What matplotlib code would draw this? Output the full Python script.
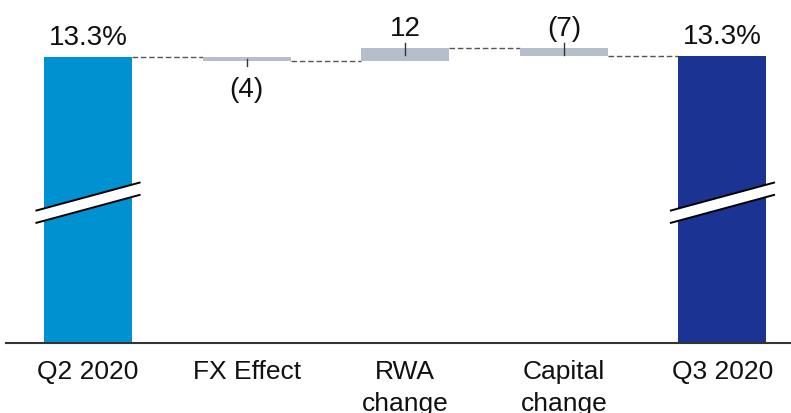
import matplotlib
matplotlib.use('Agg')
import matplotlib.pyplot as plt
from matplotlib.patches import Polygon

plt.rcParams['font.family'] = ['Liberation Sans', 'DejaVu Sans']

# CET1 ratio bridge, Q2 -> Q3 2020 (movements in basis points)
categories = ['Q2 2020', 'FX Effect', 'RWA\nchange', 'Capital\nchange', 'Q3 2020']
start_ratio = 13.30          # %
deltas_bps = [-4, 12, -7]
end_ratio = start_ratio + sum(deltas_bps) / 100.0

TOTAL_COLORS = ['#0091D0', '#1B3393']
STEP_COLOR = '#B4BFCB'
LINE_COLOR = '#555555'

BAR_W = 0.555
Y_LOW, Y_HIGH = 10.58, 13.85

fig = plt.figure(figsize=(7.91, 4.14), dpi=100)
ax = fig.add_axes([6 / 791, 70 / 414, 785 / 791, 344 / 414])
ax.set_xlim(-0.517, 4.432)
ax.set_ylim(Y_LOW, Y_HIGH)

n = len(categories)
xs = list(range(n))

# running level after each step
levels = [start_ratio]
for d in deltas_bps:
    levels.append(levels[-1] + d / 100.0)

spans = [(Y_LOW, start_ratio)]
for i, d in enumerate(deltas_bps):
    a, b = levels[i], levels[i + 1]
    spans.append((min(a, b), max(a, b)))
spans.append((Y_LOW, end_ratio))

colors = [TOTAL_COLORS[0]] + [STEP_COLOR] * len(deltas_bps) + [TOTAL_COLORS[1]]
for x, (lo, hi), c in zip(xs, spans, colors):
    ax.bar(x, hi - lo, bottom=lo, width=BAR_W, color=c, zorder=2)

# dashed connectors between consecutive bars
for i in range(n - 1):
    y = levels[i]
    ax.plot([xs[i] + BAR_W / 2, xs[i + 1] - BAR_W / 2], [y, y],
            color=LINE_COLOR, lw=1, ls=(0, (4, 2)), zorder=1)

# total labels
for x, v in [(xs[0], start_ratio), (xs[-1], end_ratio)]:
    ax.annotate(f'{v:.1f}%', (x, v), xytext=(0, 9.5), textcoords='offset points',
                ha='center', va='baseline', fontsize=20, color='#111111')

# step labels with small leader ticks
for i, d in enumerate(deltas_bps):
    x = xs[i + 1]
    lo, hi = spans[i + 1]
    txt = f'({abs(d)})' if d < 0 else f'{d}'
    if i == 0:
        # first step is labelled below the bar
        ax.plot([x, x], [lo + 0.02, lo - 0.05], color='#333333', lw=1, zorder=3)
        ax.annotate(txt, (x, lo), xytext=(0, -25), textcoords='offset points',
                    ha='center', va='baseline', fontsize=20, color='#111111')
    else:
        ax.plot([x, x], [hi - 0.06, hi + 0.05], color='#333333', lw=1, zorder=3)
        ax.annotate(txt, (x, hi), xytext=(0, 9.5), textcoords='offset points',
                    ha='center', va='baseline', fontsize=20, color='#111111')

# axis-break marks on the two total bars
half = 0.331
rise, gap, base = 0.27, 0.117, 11.72
for x in (xs[0], xs[-1]):
    x0, x1 = x - half, x + half
    band = Polygon([(x0, base), (x1, base + rise), (x1, base + rise + gap), (x0, base + gap)],
                   closed=True, facecolor='white', edgecolor='none', zorder=4)
    ax.add_patch(band)
    for off in (0, gap):
        ax.plot([x0, x1], [base + off, base + rise + off], color='black', lw=1.4,
                solid_capstyle='butt', zorder=5)

# category labels under the axis, one line at a time
ax.set_xticks([])
ax.set_yticks([])
for x, lab in zip(xs, categories):
    for k, line in enumerate(lab.split('\n')):
        ax.annotate(line, (x, 0), xycoords=('data', 'axes fraction'),
                    xytext=(0, -25.5 - 22.5 * k), textcoords='offset points',
                    ha='center', va='baseline', fontsize=19, color='#111111',
                    annotation_clip=False)

for side in ('top', 'left', 'right'):
    ax.spines[side].set_visible(False)
ax.spines['bottom'].set_color('#333333')
ax.spines['bottom'].set_linewidth(1.5)

fig.savefig('out.png', dpi=100, facecolor='white')
